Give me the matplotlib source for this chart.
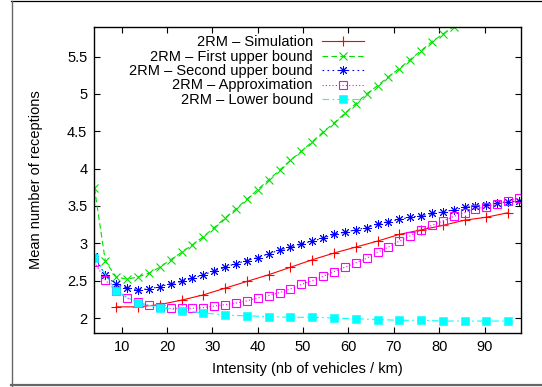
import matplotlib
matplotlib.use("Agg")
import matplotlib.pyplot as plt
from matplotlib.lines import Line2D

# ---------------- data ----------------
intensity = [4.0, 6.4, 8.8, 11.2, 13.6, 16.0, 18.4, 20.8, 23.2, 25.6,
             28.0, 30.4, 32.8, 35.2, 37.6, 40.0, 42.4, 44.8, 47.2, 49.6,
             52.0, 54.4, 56.8, 59.2, 61.6, 64.0, 66.4, 68.8, 71.2, 73.6,
             76.0, 78.4, 80.8, 83.2, 85.6, 88.0, 90.4, 92.8, 95.2, 97.6]

intensity_sim = [8.8, 13.6, 18.4, 23.2, 28.0, 32.8, 37.6, 42.4, 47.2, 52.0,
                 56.8, 61.6, 66.4, 71.2, 76.0, 80.8, 85.6, 90.4, 95.2]
simulation = [2.15, 2.15, 2.18, 2.24, 2.31, 2.40, 2.49, 2.58, 2.68, 2.78,
              2.87, 2.95, 3.03, 3.12, 3.18, 3.24, 3.31, 3.35, 3.41]

intensity_first = intensity[:34]
first_upper = [3.74, 2.76, 2.55, 2.52, 2.55, 2.60, 2.68, 2.78, 2.88, 2.98,
               3.09, 3.21, 3.34, 3.46, 3.59, 3.72, 3.85, 3.98, 4.11, 4.23,
               4.36, 4.49, 4.61, 4.74, 4.87, 5.00, 5.11, 5.23, 5.34, 5.46,
               5.58, 5.70, 5.80, 5.90]

second_upper = [2.83, 2.57, 2.45, 2.40, 2.38, 2.39, 2.42, 2.46, 2.49, 2.53,
                2.58, 2.63, 2.68, 2.73, 2.77, 2.81, 2.86, 2.91, 2.95, 2.99,
                3.03, 3.07, 3.12, 3.15, 3.18, 3.21, 3.26, 3.29, 3.32, 3.35,
                3.37, 3.40, 3.42, 3.45, 3.48, 3.50, 3.52, 3.54, 3.55, 3.57]

approximation = [2.75, 2.51, 2.36, 2.27, 2.21, 2.17, 2.15, 2.13, 2.13, 2.13,
                 2.14, 2.16, 2.18, 2.20, 2.23, 2.27, 2.30, 2.34, 2.39, 2.45,
                 2.50, 2.56, 2.62, 2.68, 2.74, 2.80, 2.88, 2.95, 3.03, 3.10,
                 3.18, 3.24, 3.30, 3.36, 3.41, 3.46, 3.49, 3.53, 3.57, 3.61]

intensity_low = [4.0, 8.8, 13.6, 18.4, 23.2, 28.0, 32.8, 37.6, 42.4, 47.2,
                 52.0, 56.8, 61.6, 66.4, 71.2, 76.0, 80.8, 85.6, 90.4, 95.2]
lower = [2.81, 2.36, 2.20, 2.14, 2.10, 2.07, 2.04, 2.03, 2.02, 2.01,
         2.01, 2.00, 1.99, 1.98, 1.97, 1.97, 1.96, 1.96, 1.96, 1.96]

labels = ["2RM \u2013 Simulation", "2RM \u2013 First upper bound",
          "2RM \u2013 Second upper bound", "2RM \u2013 Approximation",
          "2RM \u2013 Lower bound"]
xticks = [10, 20, 30, 40, 50, 60, 70, 80, 90]
yticks = [2, 2.5, 3, 3.5, 4, 4.5, 5, 5.5]

# ---------------- style ----------------
W, H, DPI = 542, 387, 100
plt.rcParams["font.family"] = ["Liberation Sans", "DejaVu Sans"]
plt.rcParams["font.size"] = 10.5

fig = plt.figure(figsize=(W / DPI, H / DPI), dpi=DPI)
L, R, T, B = 94, 521.3, 26.7, 333
ax = fig.add_axes([L / W, 1 - B / H, (R - L) / W, (B - T) / H])

lw = 0.8
styles = [
    dict(color="#ff0000", linestyle="-", marker="+", ms=6.5, mew=0.8),
    dict(color="#00e000", linestyle=(0, (5, 3)), marker="x", ms=5.5, mew=0.8),
    dict(color="#0000ff", linestyle=(0, (1.5, 3)), marker=(8, 2, 0), ms=6.5, mew=0.7),
    dict(color="#ff00ff", linestyle=(0, (1, 2)), marker="s", ms=5.5, mew=0.8, mfc="none"),
    dict(color="#00ffff", linestyle=(0, (6, 3, 1.5, 3)), marker="s", ms=5.2, mew=0.4),
]
series = [(intensity_sim, simulation), (intensity_first, first_upper),
          (intensity, second_upper), (intensity, approximation),
          (intensity_low, lower)]

for (xs, ys), st in zip(series, styles):
    ax.plot(xs, ys, lw=lw, **st)

ax.set_xlim(3.9, 98.1)
ax.set_ylim(1.8, 5.9)
ax.set_xticks(xticks)
ax.set_yticks(yticks)
ax.set_yticklabels(["2", "2.5", "3", "3.5", "4", "4.5", "5", "5.5"])
ax.tick_params(direction="in", length=4.3, width=0.8, top=True, right=True,
               colors="black")
ax.tick_params(axis="x", pad=5)
ax.tick_params(axis="y", pad=4.8)
for sp in ax.spines.values():
    sp.set_linewidth(1.0)

ax.set_xlabel("Intensity (nb of vehicles / km)")
ax.xaxis.set_label_coords(0.5, -0.094)
ax.set_ylabel("Mean number of receptions")
ax.yaxis.set_label_coords(-0.119, 0.5)

# legend drawn gnuplot-style (text right-aligned, sample to the right)
row_y = [41.3, 55.7, 70.1, 84.5, 98.9]
for lab, st, y in zip(labels, styles, row_y):
    fy = 1 - y / H
    fig.text(313 / W, 1 - (y + 5.0) / H, lab, ha="right", va="baseline")
    line_st = {k: v for k, v in st.items() if k in ("color", "linestyle")}
    fig.add_artist(Line2D([322 / W, 364 / W], [fy, fy], lw=lw,
                          transform=fig.transFigure, **line_st))
    mk_st = {k: v for k, v in st.items() if k != "linestyle"}
    fig.add_artist(Line2D([343 / W], [fy], linestyle="none",
                          transform=fig.transFigure, **mk_st))

# outer frame
fig.add_artist(Line2D([11 / W, 1], [1 - 1.2 / H] * 2, color="black", lw=0.9,
                      transform=fig.transFigure))
fig.add_artist(Line2D([11.5 / W, 11.5 / W], [1 - 1.2 / H, 1 - 385.5 / H],
                      color="#666666", lw=1.0, transform=fig.transFigure))
fig.add_artist(Line2D([11 / W, 1], [1 - 385.3 / H] * 2, color="#666666",
                      lw=1.6, transform=fig.transFigure))

fig.savefig("out.png", dpi=DPI)
